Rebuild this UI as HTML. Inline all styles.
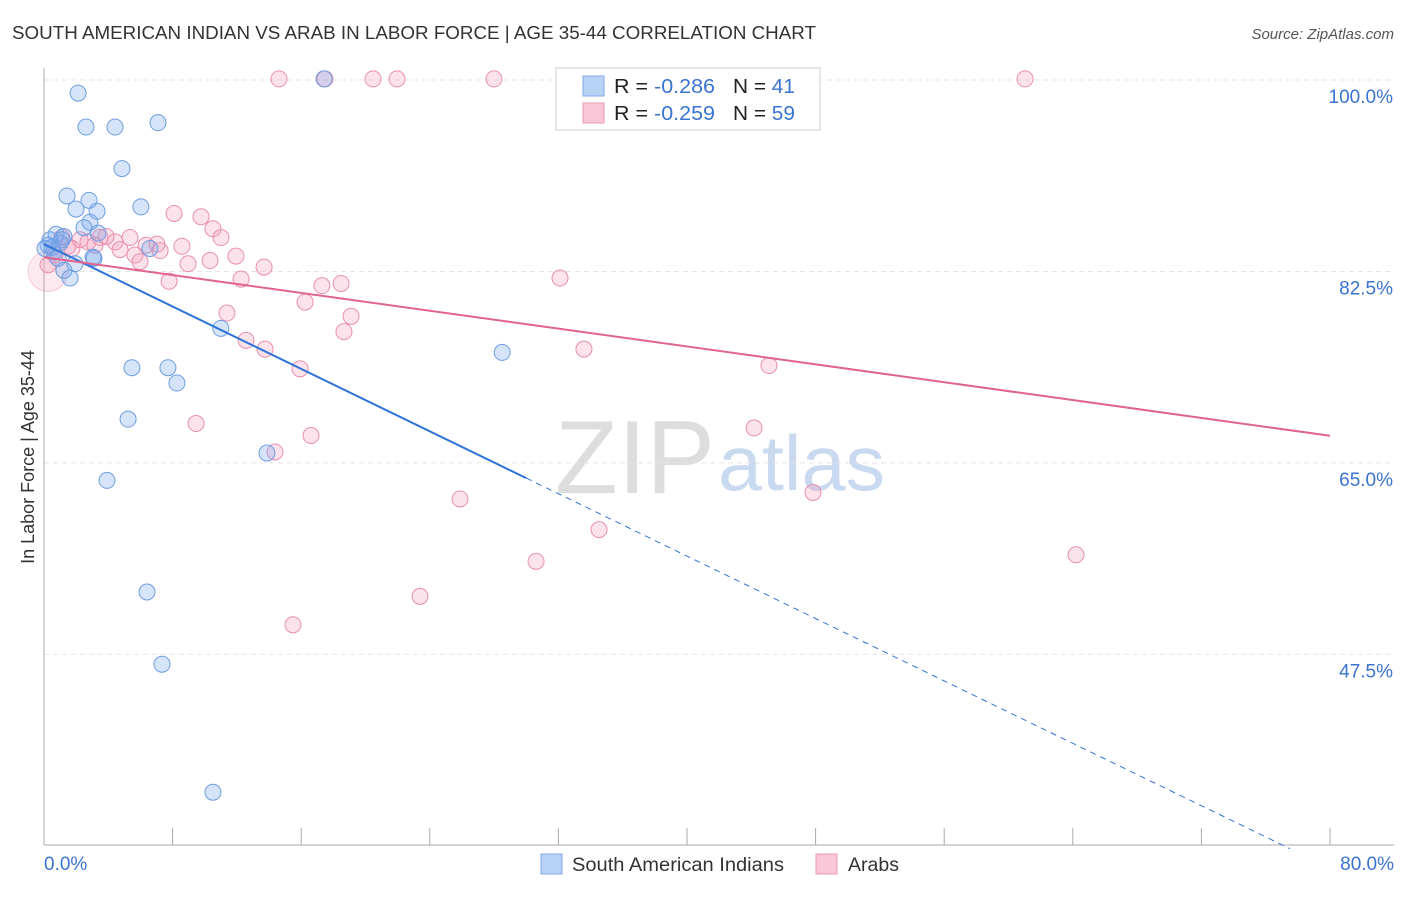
<!DOCTYPE html>
<html><head><meta charset="utf-8"><style>
body{margin:0;background:#fff;font-family:"Liberation Sans",sans-serif;}
svg text{font-family:"Liberation Sans",sans-serif;}
</style></head><body>
<svg id="c" width="1406" height="892" xmlns="http://www.w3.org/2000/svg">
<text x="12" y="39" font-size="18" fill="#333" textLength="804" lengthAdjust="spacingAndGlyphs">SOUTH AMERICAN INDIAN VS ARAB IN LABOR FORCE | AGE 35-44 CORRELATION CHART</text>
<text x="1394" y="39" font-size="15" fill="#555" font-style="italic" text-anchor="end">Source: ZipAtlas.com</text>
<text x="34" y="457" font-size="18" fill="#333" text-anchor="middle" transform="rotate(-90 34 457)">In Labor Force | Age 35-44</text>
<g>
<text x="555" y="493" font-size="104" fill="#ddd" font-family="Liberation Serif, serif" textLength="160" lengthAdjust="spacingAndGlyphs">ZIP</text>
<text x="718" y="490" font-size="78" fill="#c9d9f0" textLength="167" lengthAdjust="spacingAndGlyphs">atlas</text>
</g>
<g id="grid"></g><g id="axes"></g><g id="pts"></g><g id="trend"></g>
<g>
<rect x="556" y="68" width="264" height="62" fill="#fff" stroke="#ccc"/>
<rect x="583" y="76" width="21" height="20" fill="#b8d2f5" stroke="#7fa8e6"/>
<rect x="583" y="103" width="21" height="20" fill="#f8c6d6" stroke="#e99ab5"/>
<text x="614" y="93" font-size="20" fill="#222" textLength="101" lengthAdjust="spacingAndGlyphs">R = <tspan fill="#3a74d0">-0.286</tspan></text>
<text x="733" y="93" font-size="20" fill="#222" textLength="62" lengthAdjust="spacingAndGlyphs">N = <tspan fill="#3a74d0"> 41</tspan></text>
<text x="614" y="120" font-size="20" fill="#222" textLength="101" lengthAdjust="spacingAndGlyphs">R = <tspan fill="#3a74d0">-0.259</tspan></text>
<text x="733" y="120" font-size="20" fill="#222" textLength="62" lengthAdjust="spacingAndGlyphs">N = <tspan fill="#3a74d0">59</tspan></text>
</g>
<g>
<rect x="541" y="854" width="21" height="20" fill="#b8d2f5" stroke="#7fa8e6"/>
<text x="572" y="871" font-size="19" fill="#333" textLength="212" lengthAdjust="spacingAndGlyphs">South American Indians</text>
<rect x="816" y="854" width="21" height="20" fill="#f8c6d6" stroke="#e99ab5"/>
<text x="848" y="871" font-size="19" fill="#333" textLength="51" lengthAdjust="spacingAndGlyphs">Arabs</text>
</g>
</svg>
<script>
const yTicks=[100,82.5,65,47.5];
const yTickLabels=["100.0%","82.5%","65.0%","47.5%"];
const xTickLabels=["0.0%","80.0%"];
const blueX=[2.12,2.61,4.42,7.09,4.85,1.43,2.80,1.99,3.30,6.03,2.86,2.49,3.36,0.75,1.24,0.37,1.0,0.5,6.59,3.05,0.87,1.93,1.24,1.62,11.0,5.47,7.71,8.27,28.5,5.23,13.87,3.92,6.41,7.34,10.51,17.42,0.25,0.62,3.11,1.12,0.06];
const blueY=[98.8,95.7,95.7,96.1,91.9,89.4,89.0,88.2,88.0,88.4,87.0,86.5,86.0,85.9,85.7,85.4,85.1,84.7,84.6,83.8,83.7,83.2,82.6,81.9,77.3,73.7,73.7,72.3,75.1,69.0,65.9,63.4,53.2,46.6,34.9,100.1,84.9,84.3,83.7,85.4,84.6];
const pinkX=[14.62,17.48,20.47,21.96,27.99,47.15,61.03,8.09,9.77,10.51,11.01,1.12,2.24,3.48,4.42,5.35,6.35,7.03,8.58,1.49,2.74,4.73,5.66,7.22,8.96,10.33,11.94,13.69,7.78,12.26,17.29,18.48,32.1,16.24,11.38,19.1,18.66,12.57,13.75,33.59,45.1,15.93,9.46,44.17,16.61,14.37,25.88,47.84,34.53,30.61,64.2,23.39,15.49,0.25,0.68,1.74,3.86,5.97,3.17];
const pinkY=[100.1,100.1,100.1,100.1,100.1,100.1,100.1,87.8,87.5,86.4,85.6,85.6,85.4,85.6,85.2,85.6,84.9,85.0,84.8,84.8,85.2,84.5,84.0,84.4,83.2,83.5,83.9,82.9,81.6,81.8,81.2,81.4,81.9,79.7,78.7,78.4,77.0,76.2,75.4,75.4,73.9,73.6,68.6,68.2,67.5,66.0,61.7,62.3,58.9,56.0,56.6,52.8,50.2,83.1,84.0,84.6,85.7,83.4,84.9];
const blueTrend=[85.0,-0.713];
const pinkTrend=[83.8,-0.204];
const NS="http://www.w3.org/2000/svg";
const X=v=>44+v*16.075, Y=v=>80+(100-v)*10.94;
function mk(t,a,p){const e=document.createElementNS(NS,t);for(const k in a)e.setAttribute(k,a[k]);document.getElementById(p).appendChild(e);return e;}
yTicks.forEach((t,i)=>{
 const l=mk('line',{x1:44,x2:1394,y1:Y(t),y2:Y(t),stroke:'#e4e4e4','stroke-dasharray':'5,4'},'grid');
 
 
 const tx=mk('text',{x:1393,y:Y(t)+23,'font-size':19,fill:'#3a74d0','text-anchor':'end'},'axes');tx.textContent=yTickLabels[i];
 
 
});
let ax=mk('line',{x1:44,x2:44,y1:68,y2:845,stroke:'#aaa'},'axes');


ax=mk('line',{x1:44,x2:1394,y1:845,y2:845,stroke:'#aaa'},'axes');


for(let i=0;i<=10;i++){const t=mk('line',{x1:X(i*8),x2:X(i*8),y1:828,y2:845,stroke:'#aaa'},'axes');
 
 }
[[0,'start',44],[80,'end',1394]].forEach((d,i)=>{const t=mk('text',{x:d[2],y:870,'font-size':19,fill:'#3a74d0','text-anchor':d[1]},'axes');t.textContent=xTickLabels[i];
 
 });
let big=mk('circle',{cx:X(0.25),cy:Y(82.5),r:20,fill:'rgba(240,150,180,0.2)',stroke:'rgba(230,138,168,0.4)'},'pts');


pinkX.forEach((x,i)=>{const c=mk('circle',{cx:X(x),cy:Y(pinkY[i]),r:8,fill:'rgba(245,160,190,0.3)',stroke:'#e890ae','stroke-width':1},'pts');
 
 });
blueX.forEach((x,i)=>{const c=mk('circle',{cx:X(x),cy:Y(blueY[i]),r:8,fill:'rgba(120,165,235,0.3)',stroke:'#6f9ee0','stroke-width':1},'pts');
 
 });
const bf=x=>blueTrend[0]+blueTrend[1]*x, pf=x=>pinkTrend[0]+pinkTrend[1]*x;
let t=mk('line',{x1:X(0),y1:Y(bf(0)),x2:X(30),y2:Y(bf(30)),stroke:'#2f74d6','stroke-width':2},'trend');


t=mk('line',{x1:X(30),y1:Y(bf(30)),x2:X(77.5),y2:Y(bf(77.5)),stroke:'#2f74d6','stroke-width':1,'stroke-dasharray':'6,5'},'trend');


t=mk('line',{x1:X(0),y1:Y(pf(0)),x2:X(80),y2:Y(pf(80)),stroke:'#e0648f','stroke-width':2},'trend');


</script>
</body></html>
